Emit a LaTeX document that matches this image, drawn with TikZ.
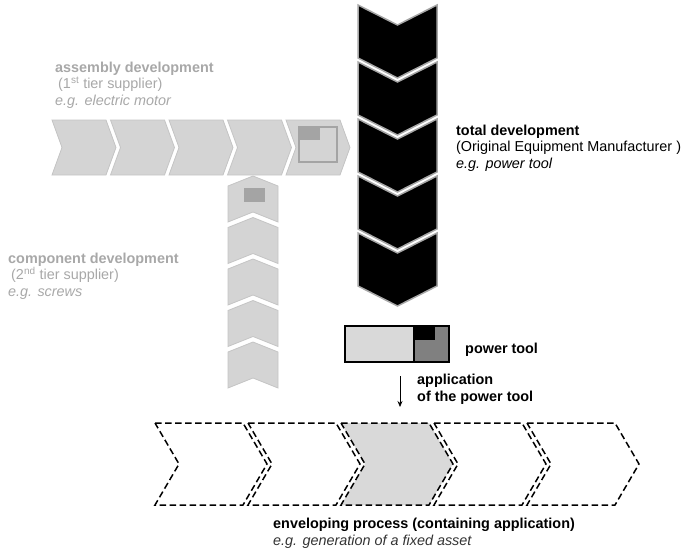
\documentclass[tikz,border=0pt]{standalone}
\usepackage{fontspec}
\setmainfont{Liberation Sans}
\usetikzlibrary{arrows.meta}
\definecolor{chevgray}{HTML}{D4D4D4}
\definecolor{chevline}{HTML}{C4C4C4}
\definecolor{markgray}{HTML}{A4A4A4}
\definecolor{txtgray}{HTML}{A8A8A8}
\definecolor{toolgray}{HTML}{D9D9D9}
\definecolor{tooldark}{HTML}{808080}
\begin{document}
\begin{tikzpicture}[x=1pt,y=-1pt,
  lightchev/.style={fill=chevgray,draw=chevline,line width=0.8pt},
  darkchev/.style={fill=black,draw=gray!70,line width=1.5pt,line join=miter},
  dashchev/.style={draw=black,line width=1.5pt,dash pattern=on 6.5pt off 3.5pt},
  txt/.style={anchor=base west,align=left,inner sep=0pt,font=\fontsize{14.4}{16.5}\selectfont},
  grtxt/.style={txt,text=txtgray}]
  \useasboundingbox (0,0) rectangle (686,552);

  % supplier chains
  \foreach \i in {0,...,4}
    \draw[lightchev] ({52+58.5*\i},120) -- ++(54,0) -- ++(10,27.5) -- ++(-10,27.5)
      -- ++(-54,0) -- ++(10,-27.5) -- cycle;
  \foreach \i in {0,...,4}
    {\pgfmathsetmacro{\t}{176+41.5*\i}
     \draw[lightchev] (228,\t+10) -- (253,\t) -- (278,\t+10) -- (278,\t+46)
       -- (253,\t+36) -- (228,\t+46) -- cycle;}
  \draw[markgray,line width=2pt] (299,127) rectangle (337,162);
  \fill[markgray] (299,127) rectangle (320,140);
  \fill[markgray] (244,188) rectangle (265,202);

  % OEM chain
  \foreach \i in {0,...,4}
    {\pgfmathsetmacro{\t}{5+57*\i}
     \draw[darkchev] (358,\t) -- (397.5,\t+20) -- (437,\t) -- (437,\t+53)
       -- (397.5,\t+73) -- (358,\t+53) -- cycle;}

  % power tool
  \fill[toolgray] (345,326) rectangle (414,362);
  \fill[tooldark] (414,326) rectangle (449,362);
  \fill[black] (414,326) rectangle (435,340);
  \draw[line width=2pt] (345,326) rectangle (449,362) (414,326) -- (414,362);

  % enveloping process
  \foreach \i/\col in {0/white,1/white,2/toolgray,3/white,4/white}
    \draw[dashchev,fill=\col] ({155+93*\i},423) -- ++(88,0) -- ++(24,41) -- ++(-24,41)
      -- ++(-88,0) -- ++(24,-41) -- cycle;

  \coordinate (appltop) at (400,376);
  \coordinate (applbot) at (400,407);
  \draw[-{Stealth[length=6pt,width=5pt]},line width=0.7pt] (appltop) -- (applbot);

  % labels (anchored at the baseline of the last line)
  \node[grtxt] (assembly) at (55,105) {\textbf{assembly development}\\ \hspace{3pt}(1\textsuperscript{st} tier supplier)\\ \textit{e.g. electric motor}};
  \node[grtxt] (component) at (8,296) {\textbf{component development}\\ \hspace{3pt}(2\textsuperscript{nd} tier supplier)\\ \textit{e.g. screws}};
  \node[txt] (total) at (456,168) {\textbf{total development}\\(Original Equipment Manufacturer )\\ \textit{e.g. power tool}};
  \node[txt] (tool) at (465,353) {\textbf{power tool}};
  \node[txt] (appl) at (417,401) {\textbf{application}\\ \textbf{of the power tool}};
  \node[txt] (envel) at (273,545) {\textbf{enveloping process (containing application)}\\ \textcolor{black!80}{\textit{e.g. generation of a fixed asset}}};
\end{tikzpicture}
\end{document}
